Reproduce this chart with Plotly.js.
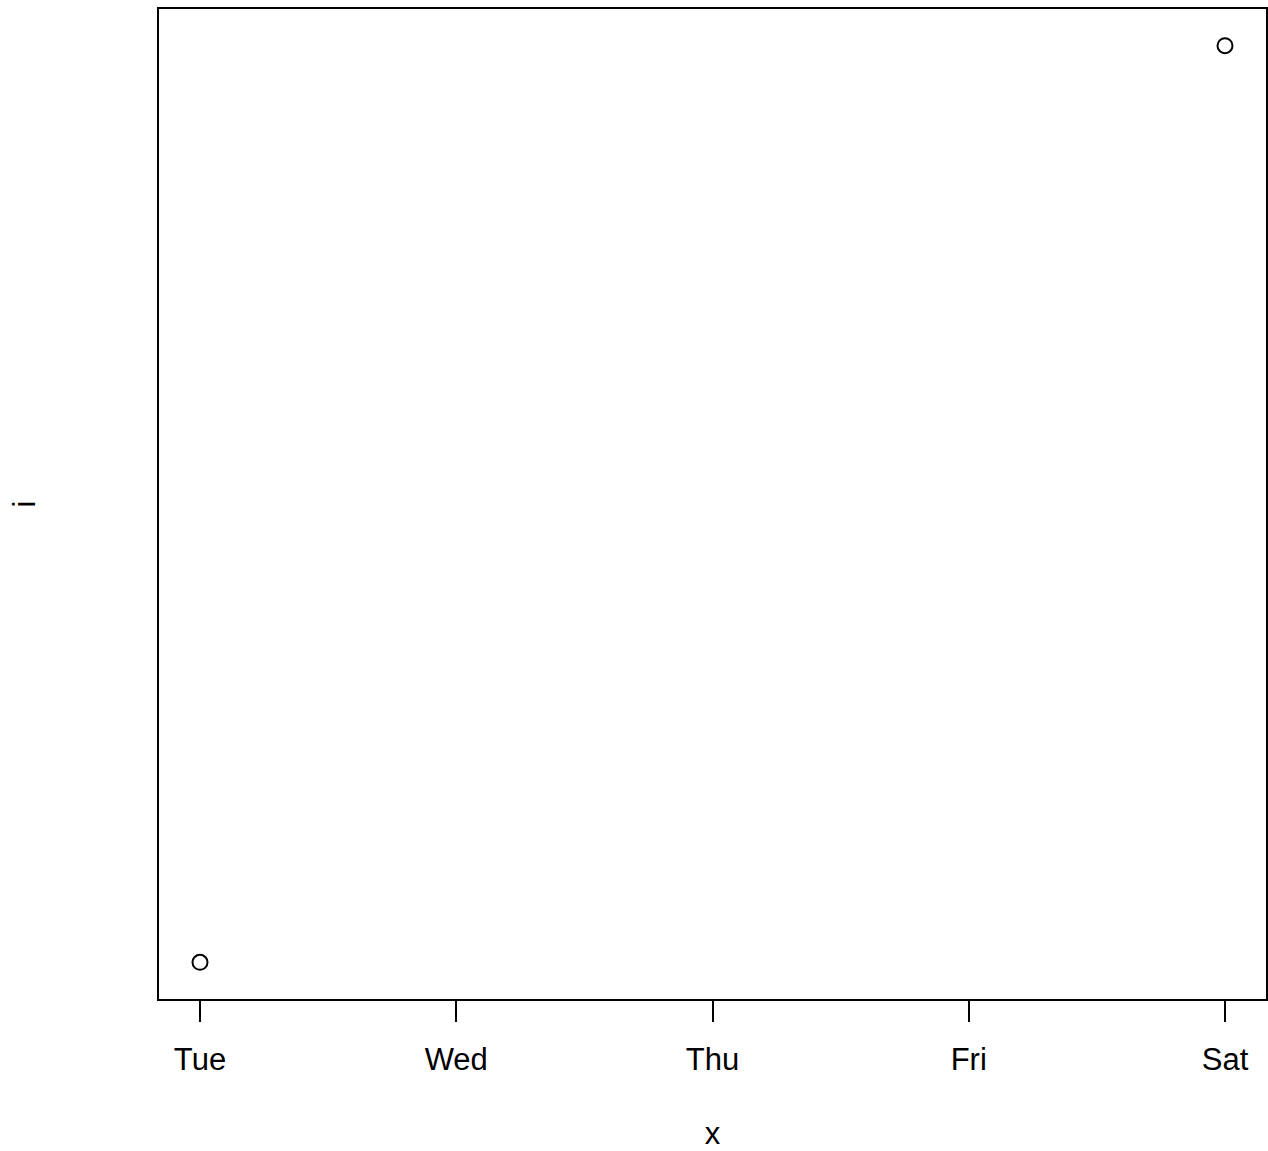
<!DOCTYPE html>
<html><head><meta charset="utf-8">
<script src="https://cdn.plot.ly/plotly-3.0.1.min.js"></script>
<style>html,body{margin:0;padding:0;background:#fff}#plot{width:1268px;height:1151px}</style>
</head><body><div id="plot"></div>
<script>
const days = ['Tue','Wed','Thu','Fri','Sat'];
const xVals = ['Tue','Sat'];
const yVals = [1, 2];

const trace = {
  x: xVals, y: yVals, type: 'scatter', mode: 'markers',
  marker: {symbol: 'circle-open', size: 15, color: '#000', line: {width: 2, color: '#000'}},
  hoverinfo: 'skip'
};
const layout = {
  width: 1268, height: 1151,
  margin: {l: 159, r: 2, t: 9, b: 152},
  paper_bgcolor: '#fff', plot_bgcolor: '#fff',
  font: {family: 'Liberation Sans, Arial, sans-serif', color: '#000'},
  showlegend: false,
  xaxis: {
    type: 'category', categoryorder: 'array', categoryarray: days,
    tickvals: days, ticktext: days,
    range: [-0.16, 4.16], autorange: false,
    showgrid: false, zeroline: false,
    showline: true, mirror: true, linecolor: '#000', linewidth: 2,
    ticks: 'outside', ticklen: 21, tickwidth: 2, tickcolor: '#000',
    tickfont: {size: 31, color: '#000'}, ticklabelstandoff: 11,
    title: {text: 'x', font: {size: 31, color: '#000'}, standoff: 48},
    automargin: false
  },
  yaxis: {
    range: [0.96, 2.04], autorange: false,
    showgrid: false, zeroline: false,
    showline: true, mirror: true, linecolor: '#000', linewidth: 2,
    ticks: '', showticklabels: false,
    title: {text: 'i', font: {size: 31, color: '#000'}, standoff: 112},
    automargin: false
  }
};
Plotly.newPlot('plot', [trace], layout, {displayModeBar: false, staticPlot: true});
</script></body></html>
